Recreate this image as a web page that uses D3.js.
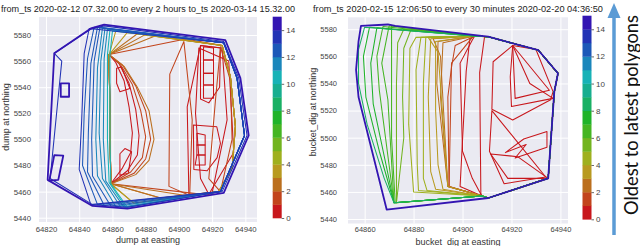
<!DOCTYPE html>
<html><head><meta charset="utf-8">
<script src="https://cdn.jsdelivr.net/npm/d3@7"></script>
<style>body{margin:0;background:#fff}svg{display:block}</style>
</head><body><svg id="c" width="640" height="246"></svg>
<script>
// ---------- data ----------
const colorTicks = [0, 2, 4, 6, 8, 10, 12, 14];
const bandColors = ["#c8171c","#c2441c","#bb6f1e","#b89a20","#9fb01e","#72b41f","#45b522","#1fb329",
                    "#19b064","#17ae8f","#17b2b6","#1a86bb","#1c58b8","#2233b5","#3315b2"];
const leftTitle = "from_ts 2020-02-12 07.32.00 to every 2 hours to_ts 2020-03-14 15.32.00";
const rightTitle = "from_ts 2020-02-15 12:06:50 to every 30 minutes 2020-02-20 04:36:50";
const leftXTicks = [64820, 64840, 64860, 64880, 64900, 64920, 64940];
const rightXTicks = [64860, 64880, 64900, 64920, 64940];
const yTicks = [5440, 5460, 5480, 5500, 5520, 5540, 5560, 5580];

// left panel (dump)
const leftHull = [[64825,5566],[64847,5585],[64855,5588],[64928,5576],[64937,5547],[64942,5503],[64927,5459],[64869,5447],[64848,5449],[64821,5469]];
const leftHull2 = [[64825,5566],[64829.5,5560],[64822.5,5470],[64848,5450],[64869,5448],[64926,5460],[64941,5503],[64936,5547],[64927,5575],[64855,5587],[64847,5584.5]];
const leftHoles = [
  [[64828.9,5543],[64833.9,5543],[64833.9,5532.7],[64828.9,5532.7]],
  [[64825,5488],[64830.4,5487.5],[64827.4,5469],[64822,5468.4]]
];
const leftBlueIdx = [13, 12, 12, 12, 11, 11, 11, 10, 10];
const leftBlueEdges = [
  [[64846,5585],[64843,5566],[64841.5,5515],[64840,5477],[64847,5450]],
  [[64849,5586],[64845,5562],[64843,5520],[64842,5480],[64851,5450]],
  [[64851,5586],[64847,5558],[64845.5,5505],[64845,5475],[64855,5449.5]],
  [[64852.5,5586],[64849,5560],[64847.5,5500],[64848,5472],[64859,5449]],
  [[64854,5585.5],[64851,5555],[64850,5500],[64851,5472],[64862,5448.5]],
  [[64855.5,5585],[64853,5560],[64852,5505],[64854,5470],[64865,5448]],
  [[64857,5584.5],[64855,5562],[64854.5,5500],[64856,5468],[64867,5448]],
  [[64858.5,5584],[64857,5565],[64857,5500],[64858,5467],[64868,5448]],
  [[64860,5583],[64858.5,5565],[64858.5,5500],[64859,5466],[64869,5448]]
];
const leftBlueSide = [[64925,5460],[64939.5,5503],[64935,5547],[64927,5574]];
const leftFanIdx = [3, 3, 2, 2, 2, 1];
const leftFanTop = [[64862,5583],[64869,5582],[64875,5581],[64880,5580.5],[64886,5579.5],[64904,5577]];
const leftFanBottom = [[64873,5451],[64873,5451],[64889,5455],[64889,5455],[64907,5456.5],[64917,5457.5]];
const leftFanHub = [[64858,5565],[64859,5466]];
const leftFanSide = [[64926,5572],[64931,5548],[64934,5510],[64932,5478],[64924,5460]];
const leftInnerIdx = [2, 1, 1, 0, 0, 0, 0, 1, 0, 0, 1, 0, 0, 0, 0, 0, 0, 0, 0, 0];
const leftInner = [
  [[64858,5565],[64867,5556],[64875,5540],[64882,5522],[64885,5500],[64882,5484],[64874,5473],[64859,5466]],
  [[64858,5565],[64866,5557],[64874,5541],[64880,5522],[64883,5500],[64880,5485],[64873,5474],[64859,5466]],
  [[64858,5565],[64865,5557],[64872,5542],[64877,5522],[64880,5502],[64878,5486],[64871,5475],[64859,5466]],
  [[64858,5565],[64864,5558],[64870,5543],[64874,5523],[64876,5503],[64875,5488],[64869,5476],[64859,5466]],
  [[64858,5565],[64862,5559],[64867,5545],[64870,5525],[64872,5505],[64871,5490],[64866,5478],[64859,5466]],
  [[64862.5,5554.5],[64865.5,5555.5],[64870.5,5539],[64864.5,5536.5],[64862.5,5543]],
  [[64864.5,5489],[64867.5,5493],[64871.5,5490.5],[64869.5,5474],[64864.5,5472.5]],
  [[64903,5575],[64894.5,5550],[64894,5464],[64906.5,5457],[64908,5515]],
  [[64913,5572],[64905,5525],[64906,5458],[64920,5459],[64929,5515],[64926,5570]],
  [[64912,5570],[64910,5520],[64913,5470],[64918,5458],[64933,5490],[64930,5560]],
  [[64925,5571],[64931,5545],[64932,5500],[64925,5460],[64918,5470],[64922,5530]],
  [[64913,5572],[64925,5570],[64924.5,5540],[64918,5528],[64913,5531]],
  [[64914.8,5571],[64920.8,5570],[64920.8,5560.8],[64914.8,5560.8]],
  [[64914.8,5560.8],[64920.8,5560.8],[64920.8,5550.6],[64914.8,5550.6]],
  [[64914.8,5550.6],[64920.8,5550.6],[64920.8,5541.7],[64914.8,5541.7]],
  [[64914.8,5541.7],[64920.8,5541.7],[64920.8,5531.5],[64914.8,5531.5]],
  [[64910.8,5504.7],[64915.8,5503.4],[64915.8,5495.7],[64910.8,5495.7]],
  [[64910.8,5495.7],[64915.8,5495.7],[64915.8,5488],[64910.8,5488]],
  [[64910.8,5488],[64915.8,5488],[64915.8,5480.4],[64909.8,5480.4]],
  [[64908.7,5511],[64922.8,5509.7],[64925,5497],[64923,5486],[64917,5476],[64909,5477]]
];

// right panel (bucket_dig)
const rightHull = [[64858.5,5582.5],[64869.5,5583.5],[64872.5,5582.5],[64910.5,5574.5],[64931,5564.5],[64939,5547.5],[64937.5,5534],[64935,5470],[64910.5,5455.5],[64869,5447],[64857.5,5530],[64856.5,5550],[64857.5,5571]];
const rightSweepSide = [[64908,5457],[64910.5,5455.5],[64935,5470],[64937.5,5534],[64939,5547.5],[64931,5564.5],[64910.5,5574.5],[64905,5575]];
const rightSweepIdx = [8, 7, 7, 6, 6, 6, 5, 5, 4, 4, 4, 3, 3, 3, 2, 2, 2, 1, 1, 0, 0, 0];
const rightSweepEdges = [
  [[64860,5581.5],[64857.5,5565],[64857.5,5540],[64861,5510],[64868,5470],[64872,5452]],
  [[64862,5581.5],[64859.5,5560],[64860.5,5530],[64866,5490],[64872,5452]],
  [[64865,5581],[64862.5,5555],[64863.5,5525],[64872,5452]],
  [[64867.5,5582],[64865,5560],[64866,5535],[64872,5452]],
  [[64870,5582.5],[64867,5555],[64869.5,5528],[64872,5452]],
  [[64871,5582.5],[64871,5560],[64871,5500],[64872.5,5452]],
  [[64876,5580],[64873.5,5570],[64873,5540],[64873,5452]],
  [[64879,5580],[64876,5566],[64875.5,5530],[64876,5500],[64873,5452]],
  [[64881,5574],[64878.5,5566],[64878,5510],[64880,5460]],
  [[64883,5574],[64881,5550],[64881.5,5480],[64882,5461]],
  [[64885,5574],[64884,5540],[64884,5470],[64885.5,5461]],
  [[64887,5573],[64886,5530],[64887,5475],[64889,5462]],
  [[64889,5571],[64889,5520],[64890,5480],[64892,5462]],
  [[64886,5574],[64890,5563],[64894,5464]],
  [[64888,5573],[64891,5560],[64894,5464]],
  [[64890,5571],[64889.5,5540],[64894,5464]],
  [[64892,5570],[64891,5530],[64894,5464]],
  [[64904,5574],[64895.5,5555],[64894.5,5464]],
  [[64897,5568],[64895.5,5552],[64894,5530],[64894.5,5464]],
  [[64903,5573],[64901.5,5549],[64899,5464]],
  [[64909,5574.5],[64907,5548],[64907.5,5457]],
  [[64904,5572],[64899,5555],[64900,5490],[64904,5470],[64907,5460]]
];
const rightInner = [
  [[64912.5,5556],[64920.5,5568],[64930,5565],[64937,5534],[64936,5528],[64920.5,5513],[64912,5521]],
  [[64920.5,5568],[64919.5,5545],[64920,5523],[64937,5529],[64927.5,5540]],
  [[64920.5,5568],[64921.5,5529],[64935.5,5535]],
  [[64917.5,5489],[64925,5499],[64934.5,5504.5],[64934.5,5493],[64921.5,5485],[64926,5495]],
  [[64912,5520],[64911,5490],[64917,5466],[64934,5471]],
  [[64911.5,5488],[64918.5,5470],[64935,5470],[64922.5,5486]]
];

// ---------- drawing ----------
const svg = d3.select("#c");
const FONT = "'Liberation Sans', Arial, sans-serif";
const defs = svg.append("defs");

function drawPanel(cfg) {
  const x = d3.scaleLinear().domain(cfg.xDomain).range([cfg.left, cfg.right]);
  const y = d3.scaleLinear().domain(cfg.yDomain).range([cfg.bottom, cfg.top]);
  const g = svg.append("g");
  g.append("rect").attr("x", cfg.left).attr("y", cfg.top)
    .attr("width", cfg.right - cfg.left).attr("height", cfg.bottom - cfg.top).attr("fill", "#eaeaf2");
  const gx = g.append("g").attr("transform", `translate(0,${cfg.bottom})`)
    .call(d3.axisBottom(x).tickValues(cfg.xTicks).tickFormat(d3.format("d"))
      .tickSize(-(cfg.bottom - cfg.top)).tickPadding(cfg.xPad));
  const gy = g.append("g").attr("transform", `translate(${cfg.left},0)`)
    .call(d3.axisLeft(y).tickValues(yTicks).tickFormat(d3.format("d"))
      .tickSize(-(cfg.right - cfg.left)).tickPadding(cfg.yPad));
  [gx, gy].forEach(a => {
    a.select(".domain").remove();
    a.selectAll(".tick line").attr("stroke", "#fff").attr("stroke-width", 1);
    a.selectAll(".tick text").attr("fill", "#444").attr("font-size", cfg.tickFont).attr("font-family", FONT);
  });
  defs.append("clipPath").attr("id", cfg.id).append("rect")
    .attr("x", cfg.left).attr("y", cfg.top).attr("width", cfg.right - cfg.left).attr("height", cfg.bottom - cfg.top);
  const line = d3.line().x(d => x(d[0])).y(d => y(d[1])).curve(d3.curveLinearClosed);
  const polys = cfg.polys.slice().sort((a, b) => a.i - b.i);
  g.append("g").attr("clip-path", `url(#${cfg.id})`).selectAll("path").data(polys).join("path")
    .attr("d", d => line(d.p)).attr("fill", "none")
    .attr("stroke", d => bandColors[d.i])
    .attr("stroke-width", d => d.i === 14 ? 1.8 : 1.05)
    .attr("stroke-linejoin", "round");
  // colorbar
  const cb = d3.scaleLinear().domain([0, 15]).range([cfg.cbBottom, cfg.cbTop]);
  const cg = g.append("g");
  cg.selectAll("rect").data(bandColors).join("rect")
    .attr("x", cfg.cbX).attr("width", cfg.cbW)
    .attr("y", (d, i) => cb(i + 1)).attr("height", (d, i) => cb(i) - cb(i + 1) + 0.3)
    .attr("fill", d => d);
  const ca = cg.append("g").attr("transform", `translate(${cfg.cbX + cfg.cbW},0)`)
    .call(d3.axisRight(cb).tickValues(colorTicks).tickSize(2.5).tickPadding(2));
  ca.select(".domain").remove();
  ca.selectAll(".tick line").attr("stroke", "#444").attr("stroke-width", 0.8);
  ca.selectAll(".tick text").attr("fill", "#444").attr("font-size", 8).attr("font-family", FONT);
  // title
  g.append("text").attr("x", (cfg.left + cfg.right) / 2).attr("y", 11.5).attr("text-anchor", "middle")
    .attr("font-size", 8.5).attr("font-family", FONT).attr("fill", "#222")
    .attr("textLength", cfg.titleLen).attr("lengthAdjust", "spacingAndGlyphs").text(cfg.title);
  // x label
  g.append("text").attr("x", cfg.xlabX).attr("y", cfg.xlabY).attr("text-anchor", "middle")
    .attr("font-size", 9).attr("font-family", FONT).attr("fill", "#333").text(cfg.xlabel);
  // y label
  g.append("text").attr("transform", `translate(${cfg.ylabX},${cfg.ylabY}) rotate(-90)`)
    .attr("text-anchor", "middle").attr("font-size", 9).attr("font-family", FONT).attr("fill", "#333")
    .text(cfg.ylabel);
}

const leftPolys = [];
leftBlueEdges.forEach((e, k) => leftPolys.push({ i: leftBlueIdx[k], p: e.concat(leftBlueSide) }));
leftFanTop.forEach((t, k) => leftPolys.push({ i: leftFanIdx[k], p: [leftFanHub[0], t].concat(leftFanSide, [leftFanBottom[k], leftFanHub[1]]) }));
leftInner.forEach((p, k) => leftPolys.push({ i: leftInnerIdx[k], p }));
leftPolys.push({ i: 13, p: leftHull2 });
leftPolys.push({ i: 14, p: leftHull });
leftHoles.forEach(p => leftPolys.push({ i: 14, p }));

const rightPolys = [];
rightSweepEdges.forEach((e, k) => rightPolys.push({ i: rightSweepIdx[k], p: e.concat(rightSweepSide) }));
rightInner.forEach(p => rightPolys.push({ i: 0, p }));
rightPolys.push({ i: 14, p: rightHull });

drawPanel({
  id: "clipL", left: 39, right: 257, top: 17, bottom: 222,
  xDomain: [64815.8, 64947], yDomain: [5436.7, 5593.8],
  xTicks: leftXTicks, xPad: 4, yPad: 8, tickFont: 7.8, polys: leftPolys,
  cbX: 272.7, cbW: 9, cbTop: 16.7, cbBottom: 218,
  title: leftTitle, titleLen: 294, xlabel: "dump at easting", xlabX: 148, xlabY: 243,
  ylabel: "dump at northing", ylabX: 9, ylabY: 117
});
drawPanel({
  id: "clipR", left: 348, right: 568, top: 17.3, bottom: 223.5,
  xDomain: [64853.2, 64943.1], yDomain: [5436.7, 5588.8],
  xTicks: rightXTicks, xPad: 3, yPad: 11, tickFont: 7.5, polys: rightPolys,
  cbX: 582.5, cbW: 9, cbTop: 15.7, cbBottom: 219.3,
  title: rightTitle, titleLen: 290, xlabel: "bucket_dig at easting", xlabX: 458, xlabY: 244.5,
  ylabel: "bucket_dig at northing", ylabX: 316, ylabY: 112
});

// annotation arrow + text
const ann = svg.append("g");
ann.append("line").attr("x1", 614).attr("x2", 614).attr("y1", 235).attr("y2", 16)
  .attr("stroke", "#5b9bd5").attr("stroke-width", 3.5);
ann.append("path").attr("d", "M614,3 L607.5,18 L620.5,18 Z").attr("fill", "#5b9bd5");
ann.append("text").attr("transform", "translate(637.5,215) rotate(-90)")
  .attr("font-size", 19).attr("font-family", "Lato, 'Open Sans', sans-serif").attr("fill", "#111")
  .attr("textLength", 200).attr("lengthAdjust", "spacingAndGlyphs")
  .text("Oldest to latest polygons");
</script></body></html>
